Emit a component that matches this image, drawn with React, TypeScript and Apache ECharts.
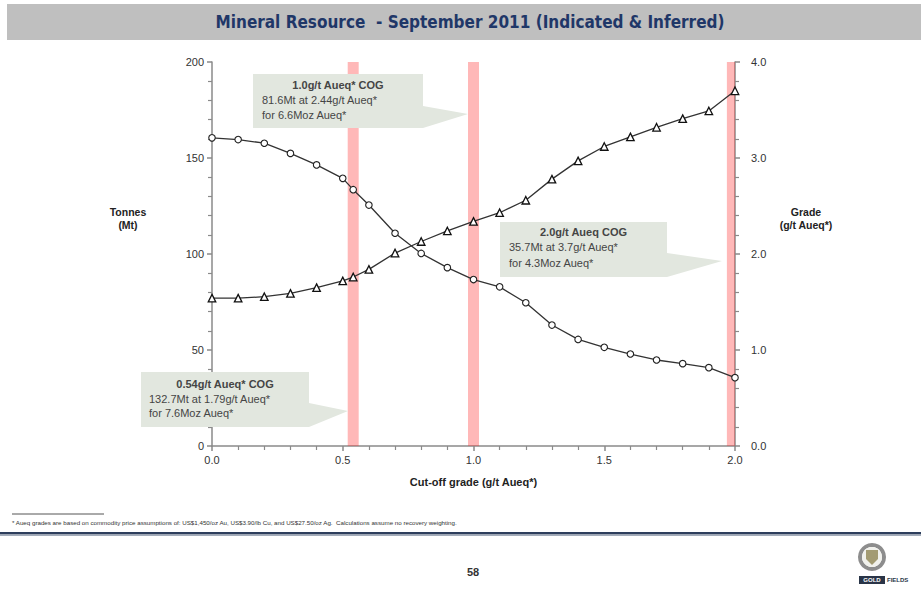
import React, { useEffect, useRef } from "react";
import * as echarts from "echarts";

// ---- data ----
const cutoffs = [0, 0.1, 0.2, 0.3, 0.4, 0.5, 0.54, 0.6, 0.7, 0.8, 0.9, 1.0, 1.1, 1.2, 1.3, 1.4, 1.5, 1.6, 1.7, 1.8, 1.9, 2.0];
const tonnesMt = [160.5, 159.6, 157.7, 152.4, 146.4, 139.4, 133.5, 125.5, 110.8, 100.3, 92.9, 86.7, 82.9, 74.6, 63.0, 55.5, 51.4, 47.9, 44.8, 42.9, 40.8, 35.6];
const gradeAueq = [1.54, 1.54, 1.555, 1.59, 1.65, 1.72, 1.76, 1.84, 2.01, 2.13, 2.24, 2.34, 2.43, 2.56, 2.78, 2.97, 3.12, 3.22, 3.32, 3.41, 3.49, 3.70];
const cogBands = [0.54, 1.0, 1.99];
const titleText = "Mineral Resource  - September 2011 (Indicated & Inferred)";
const callout1 = ["1.0g/t Aueq* COG", "81.6Mt at 2.44g/t Aueq*", "for 6.6Moz Aueq*"];
const callout2 = ["2.0g/t Aueq COG", "35.7Mt at 3.7g/t Aueq*", "for 4.3Moz Aueq*"];
const callout3 = ["0.54g/t Aueq* COG", "132.7Mt at 1.79g/t Aueq*", "for 7.6Moz Aueq*"];
const footnote = "* Aueq grades are based on commodity price assumptions of: US$1,450/oz Au, US$3.90/lb Cu, and US$27.50/oz Ag.  Calculations assume no recovery weighting.";
const pageNumber = "58";

const FONT = "'Liberation Sans', Arial, sans-serif";

function calloutGraphics(lines: string[], box: { x: number; y: number; w: number; h: number }, pointer: number[][], textLeft: number, ys: number[]) {
  const els: any[] = [
    { type: "rect", shape: { x: box.x, y: box.y, width: box.w, height: box.h }, style: { fill: "#e2e7df" }, z: 20 },
    { type: "polygon", shape: { points: pointer }, style: { fill: "#e2e7df" }, z: 20 },
    {
      type: "text", z: 21,
      style: { text: lines[0], x: box.x + box.w / 2, y: ys[0], align: "center", verticalAlign: "middle", fill: "#454545", font: `bold 11px ${FONT}` },
    },
    {
      type: "text", z: 21,
      style: { text: lines[1], x: textLeft, y: ys[1], align: "left", verticalAlign: "middle", fill: "#454545", font: `11px ${FONT}` },
    },
    {
      type: "text", z: 21,
      style: { text: lines[2], x: textLeft, y: ys[2], align: "left", verticalAlign: "middle", fill: "#454545", font: `11px ${FONT}` },
    },
  ];
  return els;
}

export default function App() {
  const ref = useRef<HTMLDivElement>(null);
  useEffect(() => {
    document.body.style.margin = "0";
    if (!ref.current) return;
    const chart = echarts.init(ref.current, null, { renderer: "svg" });
    const axisLineStyle = { color: "#8a8a8a", width: 1.5 };
    const labelStyle = { color: "#333", fontFamily: FONT, fontSize: 11 };
    const option: any = {
      animation: false,
      backgroundColor: "#ffffff",
      grid: { left: 212, right: 186, top: 62, bottom: 143, containLabel: false },
      xAxis: {
        type: "value", min: 0, max: 2, interval: 0.5,
        name: "Cut-off grade (g/t Aueq*)", nameLocation: "middle", nameGap: 30,
        nameTextStyle: { color: "#222", fontWeight: "bold", fontFamily: FONT, fontSize: 11 },
        axisLine: { lineStyle: axisLineStyle },
        axisTick: { show: true, length: 5, lineStyle: axisLineStyle },
        minorTick: { show: true, splitNumber: 5, length: 4, lineStyle: { color: "#8a8a8a", width: 1.2 } },
        splitLine: { show: false },
        axisLabel: { ...labelStyle, margin: 8, formatter: (v: number) => v.toFixed(1) },
      },
      yAxis: [
        {
          type: "value", min: 0, max: 200, interval: 50, position: "left",
          axisLine: { show: true, lineStyle: axisLineStyle },
          axisTick: { show: true, length: 5, lineStyle: axisLineStyle },
          minorTick: { show: true, splitNumber: 5, length: 4, lineStyle: { color: "#8a8a8a", width: 1.2 } },
          splitLine: { show: false },
          axisLabel: { ...labelStyle, margin: 8 },
        },
        {
          type: "value", min: 0, max: 4, interval: 1, position: "right",
          axisLine: { show: true, lineStyle: axisLineStyle },
          axisTick: { show: true, length: 5, lineStyle: axisLineStyle },
          minorTick: { show: true, splitNumber: 5, length: 4, lineStyle: { color: "#8a8a8a", width: 1.2 } },
          splitLine: { show: false },
          axisLabel: { ...labelStyle, margin: 16, formatter: (v: number) => v.toFixed(1) },
        },
      ],
      series: [
        {
          name: "Tonnes", type: "line", yAxisIndex: 0,
          data: cutoffs.map((c, i) => [c, tonnesMt[i]]),
          symbol: "circle", symbolSize: 6.5,
          lineStyle: { color: "#333", width: 1.3 },
          itemStyle: { color: "#ffffff", borderColor: "#222", borderWidth: 1.1 },
          z: 3,
        },
        {
          name: "Grade", type: "line", yAxisIndex: 1,
          data: cutoffs.map((c, i) => [c, gradeAueq[i]]),
          symbol: "triangle", symbolSize: 7.5,
          lineStyle: { color: "#333", width: 1.3 },
          itemStyle: { color: "#ffffff", borderColor: "#111", borderWidth: 1.3 },
          z: 3,
        },
        {
          name: "COG", type: "line", yAxisIndex: 0, data: [], z: 5, silent: true, clip: false,
          markArea: {
            silent: true,
            itemStyle: { color: "rgba(255,40,40,0.33)" },
            data: cogBands.map((b) => [{ xAxis: b - 0.021 }, { xAxis: b + 0.021 }]),
          },
        },
      ],
      graphic: [
        { type: "rect", shape: { x: 7, y: 4, width: 914, height: 36 }, style: { fill: "#bfbfbf" }, z: 10 },
        {
          type: "text", z: 11,
          style: { text: titleText, x: 470, y: 22, align: "center", verticalAlign: "middle", fill: "#1f3768", font: `bold 17px 'Liberation Sans Narrow', 'Arial Narrow', 'DejaVu Sans Condensed', sans-serif` },
        },
        {
          type: "text", z: 11,
          style: { text: "Tonnes\n(Mt)", x: 128, y: 218, align: "center", verticalAlign: "middle", fill: "#222", font: `bold 10.5px ${FONT}`, lineHeight: 13 },
        },
        {
          type: "text", z: 11,
          style: { text: "Grade\n(g/t Aueq*)", x: 806, y: 218, align: "center", verticalAlign: "middle", fill: "#222", font: `bold 10.5px ${FONT}`, lineHeight: 13 },
        },
        ...calloutGraphics(callout1, { x: 253, y: 74, w: 170, h: 54 }, [[423, 106], [468, 114], [423, 128]], 262, [85, 100, 115]),
        ...calloutGraphics(callout2, { x: 500, y: 222, w: 167, h: 55 }, [[667, 253], [722, 261], [667, 277]], 509, [232, 247, 263]),
        ...calloutGraphics(callout3, { x: 141, y: 372, w: 168, h: 55 }, [[309, 403], [348, 411], [309, 427]], 149, [384, 399, 413]),
        { type: "line", shape: { x1: 12, y1: 514, x2: 104, y2: 514 }, style: { stroke: "#555", lineWidth: 1 }, z: 10 },
        {
          type: "text", z: 11,
          style: { text: footnote, x: 12, y: 522, align: "left", verticalAlign: "middle", fill: "#333", font: `6.2px ${FONT}` },
        },
        { type: "rect", shape: { x: 0, y: 532, width: 921, height: 2.5 }, style: { fill: "#2d3e5c" }, z: 10 },
        { type: "rect", shape: { x: 0, y: 534.5, width: 921, height: 1.5 }, style: { fill: "#a3acba" }, z: 10 },
        {
          type: "text", z: 11,
          style: { text: pageNumber, x: 473, y: 572, align: "center", verticalAlign: "middle", fill: "#333", font: `bold 11px ${FONT}` },
        },
        { type: "ring", shape: { cx: 872, cy: 557, r: 14, r0: 10 }, style: { fill: "#8d8d8d" }, z: 10 },
        { type: "circle", shape: { cx: 872, cy: 557, r: 10 }, style: { fill: "#f1f1ec" }, z: 10 },
        { type: "polygon", shape: { points: [[866, 550], [878, 550], [878, 559], [872, 565], [866, 559]] }, style: { fill: "#a39b72" }, z: 11 },
        { type: "rect", shape: { x: 859, y: 576, width: 26, height: 8 }, style: { fill: "#2a3548" }, z: 10 },
        {
          type: "text", z: 11,
          style: { text: "GOLD", x: 872, y: 580, align: "center", verticalAlign: "middle", fill: "#ffffff", font: `bold 6px ${FONT}` },
        },
        {
          type: "text", z: 11,
          style: { text: "FIELDS", x: 887, y: 580, align: "left", verticalAlign: "middle", fill: "#2a3548", font: `bold 6px ${FONT}` },
        },
      ],
    };
    chart.setOption(option);
    return () => chart.dispose();
  }, []);
  return <div ref={ref} style={{ position: "absolute", left: 0, top: 0, width: 921, height: 589 }} />;
}
